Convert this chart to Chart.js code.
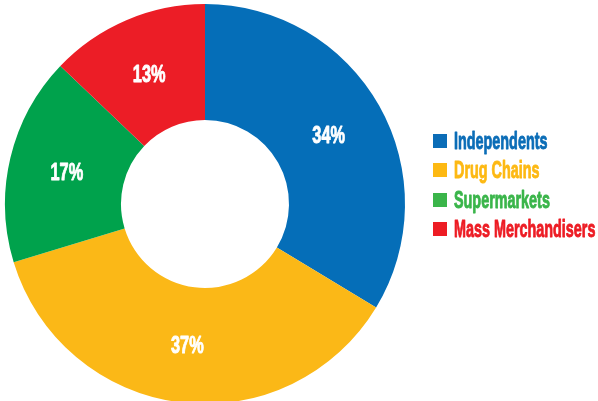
<!DOCTYPE html>
<html>
<head>
<meta charset="utf-8">
<script src="https://cdn.jsdelivr.net/npm/chart.js@4/dist/chart.umd.min.js"></script>
<style>
  html, body { margin: 0; padding: 0; background: #fff; overflow: hidden; }
  #wrap { position: relative; width: 598px; height: 408px; }
</style>
</head>
<body>
<div id="wrap"><canvas id="c"></canvas></div>
<script>
// Retail channel shares
const categories = ['Independents', 'Drug Chains', 'Supermarkets', 'Mass Merchandisers'];
const shares = [34, 37, 17, 13];
const sliceColors = ['#056EB8', '#FBB817', '#00A24C', '#EC1D26'];
const legendColors = ['#0B6DB7', '#FDB913', '#3AB54A', '#ED1C24'];

const FONT = '"Liberation Sans", Arial, sans-serif';

// Heavy bold text squeezed horizontally for a condensed look; y is the baseline
function drawText(ctx, text, x, y, size, color, align, squeeze) {
  ctx.save();
  ctx.font = 'bold ' + size + 'px ' + FONT;
  ctx.fillStyle = color;
  ctx.strokeStyle = color;
  ctx.lineWidth = 0.9;
  ctx.lineJoin = 'round';
  ctx.textBaseline = 'alphabetic';
  ctx.textAlign = align;
  ctx.translate(x, y);
  ctx.scale(squeeze, 1);
  ctx.fillText(text, 0, 0);
  ctx.strokeText(text, 0, 0);
  ctx.restore();
}

// Percent labels at each slice centroid
const sliceLabels = {
  id: 'sliceLabels',
  afterDatasetsDraw(chart) {
    const ctx = chart.ctx;
    const meta = chart.getDatasetMeta(0);
    meta.data.forEach((arc, i) => {
      const p = arc.tooltipPosition();
      drawText(ctx, chart.data.datasets[0].data[i] + '%', p.x, p.y + 8.5, 24, '#fff', 'center', 0.68);
    });
  }
};

// Legend column to the right of the ring
const sideLegend = {
  id: 'sideLegend',
  afterDraw(chart) {
    const ctx = chart.ctx;
    const x0 = 433, top0 = 134, step = 29.3, box = 14;
    chart.data.labels.forEach((label, i) => {
      const y = Math.round(top0 + i * step);
      ctx.fillStyle = legendColors[i];
      ctx.fillRect(x0, y, box, box);
      drawText(ctx, label, x0 + 21, y + 15, 23, legendColors[i], 'left', 0.625);
    });
  }
};

new Chart(document.getElementById('c'), {
  type: 'doughnut',
  data: {
    labels: categories,
    datasets: [{
      data: shares,
      backgroundColor: sliceColors,
      borderWidth: 0
    }]
  },
  options: {
    responsive: true,
    maintainAspectRatio: false,
    animation: false,
    cutout: '42%',
    layout: { padding: { left: 5, top: 4, right: 193, bottom: 4 } },
    plugins: {
      legend: { display: false },
      tooltip: { enabled: false }
    }
  },
  plugins: [sliceLabels, sideLegend]
});
</script>
</body>
</html>
